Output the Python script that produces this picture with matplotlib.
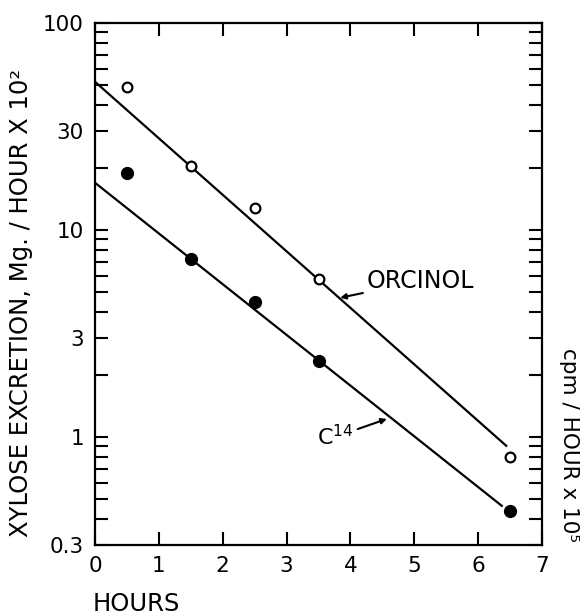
import numpy as np
import matplotlib
matplotlib.use('Agg')

import matplotlib.pyplot as plt
from matplotlib.ticker import LogLocator, FixedLocator, FixedFormatter, NullFormatter

# Measured xylose excretion (open = orcinol, filled = C14)
hours = [0.5, 1.5, 2.5, 3.5, 6.5]
orcinol = [49, 20.4, 12.8, 5.8, 0.80]
c14 = [18.9, 7.2, 4.5, 2.33, 0.44]

# Fitted lines (end points)
orcinol_fit_x = [0, 6.44]
orcinol_fit_y = [52, 0.905]
c14_fit_x = [0, 6.37]
c14_fit_y = [16.9, 0.464]

x_ticks = [0, 1, 2, 3, 4, 5, 6, 7]
y_ticks = [0.3, 1, 3, 10, 30, 100]
y_ticklabels = ['0.3', '1', '3', '10', '30', '100']

plt.rcParams['font.family'] = ['DejaVu Sans']

fig = plt.figure(figsize=(5.87, 6.15), dpi=100)
ax = fig.add_axes([95 / 587, 70 / 615, 447 / 587, 522 / 615])

ax.plot(orcinol_fit_x, orcinol_fit_y, '-k', lw=1.6)
ax.plot(c14_fit_x, c14_fit_y, '-k', lw=1.6)
ax.plot(hours, orcinol, 'o', mfc='white', mec='black', mew=1.6, ms=7)
ax.plot(hours, c14, 'o', mfc='black', mec='black', ms=8.5)

ax.set_yscale('log')
ax.set_xlim(0, 7)
ax.set_ylim(0.3, 100)

ax.set_xticks(x_ticks)
ax.yaxis.set_major_locator(FixedLocator(y_ticks))
ax.yaxis.set_major_formatter(FixedFormatter(y_ticklabels))
ax.yaxis.set_minor_locator(LogLocator(base=10, subs=np.arange(1, 10)))
ax.yaxis.set_minor_formatter(NullFormatter())

for side in ['left', 'right', 'top', 'bottom']:
    ax.spines[side].set_linewidth(1.6)

ax.tick_params(axis='x', which='major', direction='in', length=9.5, width=1.5,
               top=True, labelsize=15.5, pad=8)
ax.tick_params(axis='y', which='both', direction='in', length=9.5, width=1.5,
               right=True, labelsize=15.5, pad=8)

ax.annotate('ORCINOL', xy=(3.84, 4.7), xytext=(4.26, 5.67),
            ha='left', va='center', fontsize=17,
            arrowprops=dict(arrowstyle='-|>', lw=1.5, color='black',
                            mutation_scale=8, shrinkA=1, shrinkB=0))
ax.annotate('C$^{14}$', xy=(4.57, 1.22), xytext=(4.05, 1.0),
            ha='right', va='center', fontsize=16,
            arrowprops=dict(arrowstyle='-|>', lw=1.5, color='black',
                            mutation_scale=8, shrinkA=1, shrinkB=0))

fig.text(21 / 587, 1 - 303 / 615, 'XYLOSE EXCRETION, Mg. / HOUR X 10²',
         rotation=90, ha='center', va='center', fontsize=17.5)
fig.text(569 / 587, 1 - 445 / 615, 'cpm / HOUR x 10⁵',
         rotation=270, ha='center', va='center', fontsize=15.5)
fig.text(93 / 587, 1 - 604 / 615, 'HOURS', ha='left', va='center', fontsize=17.5)

fig.savefig('out.png', dpi=100)
